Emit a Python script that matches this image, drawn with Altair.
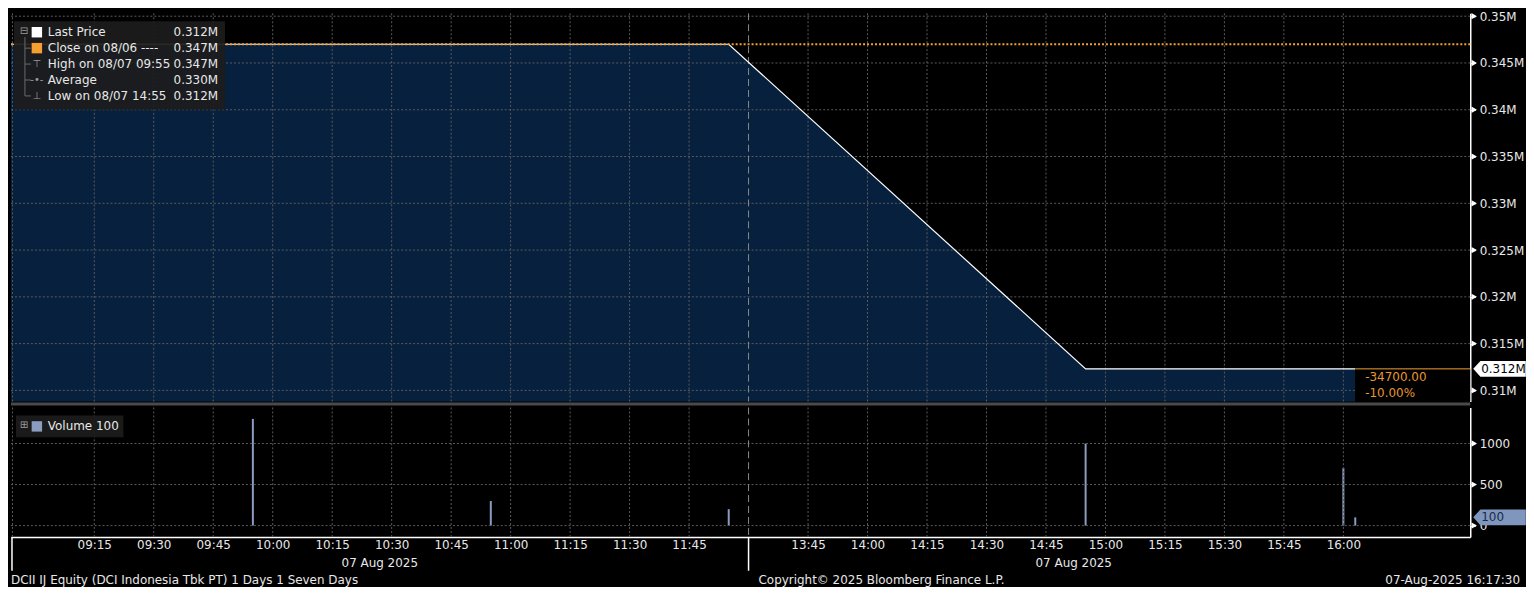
import altair as alt
import pandas as pd

# ---------------- data ----------------
price_times = ["08:54", "09:55", "10:55", "11:55", "14:55", "16:00", "16:03"]
price_values = [347000, 347000, 347000, 347000, 312300, 312300, 312300]
vol_times = ["09:55", "10:55", "11:55", "14:55", "16:00", "16:03"]
vol_values = [1300, 300, 200, 1000, 700, 100]
prev_close = 347000
legend_labels = ["Last Price", "Close on 08/06 ----", "High on 08/07 09:55",
                 "Average", "Low on 08/07 14:55"]
x_tick_labels = ["09:15", "09:30", "09:45", "10:00", "10:15", "10:30", "10:45",
                 "11:00", "11:15", "11:30", "11:45", "13:45", "14:00", "14:15",
                 "14:30", "14:45", "15:00", "15:15", "15:30", "15:45", "16:00"]
lunch_start = "12:00"
lunch_end = "13:30"
x_start, x_end = "08:54", "16:32"
date_label = "07 Aug 2025"
date_label_times = ["10:27", "14:52"]
price_axis_ticks = [310000, 312500, 315000, 317500, 320000, 322500, 325000, 327500,
                    330000, 332500, 335000, 337500, 340000, 342500, 345000, 347500, 350000]
price_grid = [310000, 315000, 320000, 325000, 330000, 335000, 340000, 345000, 350000]
price_domain = [308810, 350310]
vol_axis_ticks = [0, 250, 500, 750, 1000, 1250]
vol_grid = [0, 500, 1000]
vol_domain = [-138, 1439]
footer_left = "DCII IJ Equity (DCI Indonesia Tbk PT) 1 Days 1 Seven Days"
footer_center = "Copyright\u00a9 2025 Bloomberg Finance L.P."
footer_right = "07-Aug-2025 16:17:30"

# ---------------- layout / style ----------------
W, H1, H2 = 1466, 390, 130
FONT = "DejaVu Sans"
AREA = "#06203d"
ORANGE = "#f5a030"
ORANGE_TXT = "#e8962f"
GRID = "#5c5c5c"
VOLC = "#8a9cc0"
TXT = "#e8e8e8"


def to_min(t):
    h, m = map(int, t.split(":"))
    return h * 60 + m


L0, L1 = to_min(lunch_start), to_min(lunch_end)
GAP = L1 - L0
BASE = to_min("09:00")


def pos(t):
    v = to_min(t)
    if v >= L1:
        v -= GAP
    return v - BASE


xs = alt.Scale(domain=[pos(x_start), pos(x_end)], nice=False, zero=False)
ys = alt.Scale(domain=price_domain, nice=False, zero=False)
vs = alt.Scale(domain=vol_domain, nice=False, zero=False)

price_df = pd.DataFrame({"time": price_times, "price": price_values})
price_df["x"] = price_df["time"].map(pos)
vol_df = pd.DataFrame({"time": vol_times, "vol": vol_values})
vol_df["x"] = vol_df["time"].map(pos)
tick_df = pd.DataFrame({"x": [pos(t) for t in x_tick_labels]})
brk_df = pd.DataFrame({"x": [pos(lunch_start)]})
one = pd.DataFrame({"k": [0]})

last_price = price_values[-1]
chg = last_price - prev_close
pct = chg / prev_close * 100
price_at = dict(zip(price_times, price_values))
avg = sum(price_at[t] * v for t, v in zip(vol_times, vol_values)) / sum(vol_values)
legend_vals = [last_price, prev_close, max(price_values), avg, min(price_values)]


def fmt_m(v):
    return f"{v / 1e6:.3f}M"


# top panel: no x axis at all -> axis=None everywhere
def xt(f):
    return alt.X(f, type="quantitative", scale=xs, axis=None)


# shared axes: other layers leave the axis undefined (title only)
def yt(f):
    return alt.Y(f, type="quantitative", scale=ys, title=None)


def xb(f):
    return alt.X(f, type="quantitative", scale=xs, title=None)


def yb(f):
    return alt.Y(f, type="quantitative", scale=vs, title=None)


# ---------------- top (price) panel ----------------
y_axis_top = alt.Axis(
    orient="right", values=price_axis_ticks, title=None, grid=False,
    labelExpr="datum.value % 5000 == 0 ? format(datum.value / 1000000, '.3~f') + 'M' : ''",
    labelColor=TXT, labelFont=FONT, labelFontSize=12, labelPadding=4,
    labelOverlap=False, labelFlush=False,
    tickColor="white", tickSize=5, domainColor="white", domainWidth=1.5,
)

area = alt.Chart(price_df).mark_area(color=AREA, clip=True).encode(
    x=xt("x"), y=alt.Y("price:Q", scale=ys, axis=y_axis_top), y2=alt.value(H1)
)
vgrid = alt.Chart(tick_df).mark_rule(color=GRID, strokeDash=[2, 2], strokeWidth=1).encode(x=xt("x"))
left_edge = alt.Chart(one).mark_rule(color=GRID, strokeDash=[2, 2], strokeWidth=1).encode(x=alt.value(1.5))
grid_df = pd.DataFrame({"v": price_grid})
hgrid = alt.Chart(grid_df).mark_rule(
    color=GRID, strokeDash=[2, 2], strokeWidth=1).encode(y=yt("v"))
major_tri = alt.Chart(grid_df).mark_point(
    shape="triangle-right", size=40, filled=True, color="white", opacity=1, strokeWidth=0).encode(
    x=alt.value(W + 4), y=yt("v"))
brk_top = alt.Chart(brk_df).mark_rule(color="#8a8a8a", strokeDash=[7, 4], strokeWidth=1).encode(x=xt("x"))
line = alt.Chart(price_df).mark_line(color="white", strokeWidth=1.2).encode(
    x=xt("x"), y=yt("price"))
close_rule = alt.Chart(pd.DataFrame({"c": [prev_close]})).mark_rule(
    color=ORANGE, strokeWidth=2, strokeDash=[2, 2]).encode(y=yt("c"))

last_df = price_df.tail(1).copy()
last_df["txt"] = f"{chg:.2f}\n{pct:.2f}%"
last_df["lbl"] = fmt_m(last_price)
blank_box = alt.Chart(last_df).mark_rect(color="black").encode(
    x=xt("x"), x2=alt.value(W), y=yt("price"), y2=alt.value(H1))
last_rule = alt.Chart(last_df).mark_rule(color=ORANGE, strokeWidth=1).encode(
    x=xt("x"), x2=alt.value(W), y=yt("price"))
chg_text = alt.Chart(last_df).mark_text(
    align="left", baseline="top", lineBreak="\n", dx=10, dy=3, lineHeight=16,
    color=ORANGE_TXT, font=FONT, fontSize=12).encode(x=xt("x"), y=yt("price"), text="txt:N")
callout_path = "M0,0 L0.9,-1 L6.6,-1 L6.6,1 L0.9,1 Z"
last_box = alt.Chart(last_df).mark_point(
    shape=callout_path, size=256, filled=True, color="white", opacity=1, strokeWidth=0).encode(
    x=alt.value(W + 3), y=yt("price"))
last_lbl = alt.Chart(last_df).mark_text(
    align="left", baseline="middle", color="black", font=FONT, fontSize=12).encode(
    x=alt.value(W + 11), y=yt("price"), text="lbl:N")

separator = alt.Chart(one).mark_rect(color="#4a4a4a").encode(
    x=alt.value(0), x2=alt.value(W), y=alt.value(H1 + 1), y2=alt.value(H1 + 4))

# legend box (top-left)
leg_df = pd.DataFrame({"label": legend_labels, "val": [fmt_m(v) for v in legend_vals]})
leg_df["i"] = range(len(leg_df))
leg_df["py"] = 19 + 16 * leg_df["i"]
leg_df["glyph"] = ["", "", "\u22a4", "-\u2022-", "\u22a5"]
leg_df["sq"] = ["white", ORANGE, "none", "none", "none"]
leg_bg = alt.Chart(one).mark_rect(color="#1c1c1c", opacity=0.92).encode(
    x=alt.value(3), x2=alt.value(215), y=alt.value(8), y2=alt.value(97))
PX = dict(scale=None, axis=None)
leg_lab = alt.Chart(leg_df).mark_text(align="left", baseline="middle", color=TXT, font=FONT, fontSize=12).encode(
    x=alt.value(37), y=alt.Y("py:Q", **PX), text="label:N")
leg_val = alt.Chart(leg_df).mark_text(align="right", baseline="middle", color=TXT, font=FONT, fontSize=12).encode(
    x=alt.value(208), y=alt.Y("py:Q", **PX), text="val:N")
leg_sq = alt.Chart(leg_df.head(2)).mark_square(size=110, filled=True, opacity=1).encode(
    x=alt.value(26), y=alt.Y("py:Q", **PX), color=alt.Color("sq:N", scale=None))
leg_gl = alt.Chart(leg_df.tail(3)).mark_text(align="center", baseline="middle", color="#9a9a9a", font=FONT, fontSize=10).encode(
    x=alt.value(26), y=alt.Y("py:Q", **PX), text="glyph:N")
leg_tree_icon = alt.Chart(one).mark_text(text="\u229f", color="#9a9a9a", font=FONT, fontSize=10).encode(
    x=alt.value(13), y=alt.value(18))
leg_tree = alt.Chart(one).mark_rule(color="#6a6a6a", strokeWidth=1).encode(
    x=alt.value(14), y=alt.value(24), y2=alt.value(83))
leg_branch = alt.Chart(leg_df.tail(4)).mark_rule(color="#6a6a6a", strokeWidth=1).encode(
    x=alt.value(14), x2=alt.value(20), y=alt.Y("py:Q", **PX))

top = alt.layer(
    area, vgrid, left_edge, hgrid, brk_top, line, blank_box, close_rule, last_rule,
    chg_text, major_tri, last_box, last_lbl, separator,
    leg_bg, leg_tree, leg_branch, leg_tree_icon, leg_sq, leg_gl, leg_lab, leg_val,
).properties(width=W, height=H1)

# ---------------- bottom (volume) panel ----------------
x_axis_bottom = alt.Axis(
    values=tick_df["x"].tolist(), title=None, grid=False, ticks=False,
    labelExpr=f"timeFormat(datetime(2025, 7, 7, 9, datum.value < {L0 - BASE} ? datum.value : datum.value + {GAP}), '%H:%M')",
    labelColor=TXT, labelFont=FONT, labelFontSize=12, labelPadding=3,
    labelOverlap=False, labelFlush=False, domainColor="white", domainWidth=1.5,
)
y_axis_bottom = alt.Axis(
    orient="right", values=vol_axis_ticks, title=None, grid=False,
    labelExpr="datum.value % 500 == 0 ? '' + datum.value : ''",
    labelColor=TXT, labelFont=FONT, labelFontSize=12, labelPadding=4,
    labelOverlap=False, labelFlush=False,
    tickColor="white", tickSize=5, domainColor="white", domainWidth=1.5,
)

bars = alt.Chart(vol_df).mark_rule(color=VOLC, strokeWidth=2).encode(
    x=alt.X("x:Q", scale=xs, axis=x_axis_bottom),
    y=alt.Y("vol:Q", scale=vs, axis=y_axis_bottom), y2=alt.datum(0))
vgrid_b = alt.Chart(tick_df).mark_rule(color=GRID, strokeDash=[2, 2], strokeWidth=1).encode(x=xb("x"))
vgrid_df = pd.DataFrame({"v": vol_grid})
hgrid_b = alt.Chart(vgrid_df).mark_rule(
    color=GRID, strokeDash=[2, 2], strokeWidth=1).encode(y=yb("v"))
major_tri_b = alt.Chart(vgrid_df).mark_point(
    shape="triangle-right", size=40, filled=True, color="white", opacity=1, strokeWidth=0).encode(
    x=alt.value(W + 4), y=yb("v"))
left_edge_b = alt.Chart(one).mark_rule(color=GRID, strokeDash=[2, 2], strokeWidth=1).encode(x=alt.value(1.5))
brk_b = alt.Chart(brk_df).mark_rule(color="#8a8a8a", strokeDash=[7, 4], strokeWidth=1).encode(x=xb("x"))
brk_ext = alt.Chart(brk_df).mark_rule(color="white", strokeWidth=1.5).encode(
    x=xb("x"), y=alt.value(H2), y2=alt.value(H2 + 34))
left_ext = alt.Chart(one).mark_rule(color="white", strokeWidth=1.5).encode(
    x=alt.value(1), y=alt.value(H2), y2=alt.value(H2 + 34))

date_df = pd.DataFrame({"x": [pos(t) for t in date_label_times], "t": [date_label] * len(date_label_times)})
date_txt = alt.Chart(date_df).mark_text(baseline="middle", color=TXT, font=FONT, fontSize=12).encode(
    x=xb("x"), y=alt.value(H2 + 26), text="t:N")

foot_df = pd.DataFrame({"t": [footer_left, footer_center, footer_right]})
foot_l = alt.Chart(foot_df.iloc[[0]]).mark_text(align="left", baseline="middle", color=TXT, font=FONT, fontSize=12).encode(
    x=alt.value(0), y=alt.value(H2 + 43), text="t:N")
foot_c = alt.Chart(foot_df.iloc[[1]]).mark_text(align="left", baseline="middle", color=TXT, font=FONT, fontSize=12).encode(
    x=alt.value(751), y=alt.value(H2 + 43), text="t:N")
foot_r = alt.Chart(foot_df.iloc[[2]]).mark_text(align="right", baseline="middle", color=TXT, font=FONT, fontSize=12).encode(
    x=alt.value(W + 50), y=alt.value(H2 + 43), text="t:N")

lastv_df = vol_df.tail(1).copy()
lastv_df["lbl"] = lastv_df["vol"].astype(str)
vol_box = alt.Chart(lastv_df).mark_point(
    shape=callout_path, size=256, filled=True, color="#8097bd", opacity=1, strokeWidth=0).encode(
    x=alt.value(W + 3), y=yb("vol"))
vol_lbl = alt.Chart(lastv_df).mark_text(
    align="left", baseline="middle", color="#1a2a48", font=FONT, fontSize=12).encode(
    x=alt.value(W + 11), y=yb("vol"), text="lbl:N")

vleg_df = pd.DataFrame({"t": [f"Volume {vol_values[-1]}"]})
vleg_bg = alt.Chart(one).mark_rect(color="#1c1c1c", opacity=0.92).encode(
    x=alt.value(5), x2=alt.value(113), y=alt.value(8), y2=alt.value(30))
vleg_icon = alt.Chart(one).mark_text(text="\u229e", color="#9a9a9a", font=FONT, fontSize=10).encode(
    x=alt.value(13), y=alt.value(18))
vleg_sq = alt.Chart(one).mark_square(size=110, filled=True, opacity=1, color=VOLC).encode(
    x=alt.value(26), y=alt.value(19))
vleg_txt = alt.Chart(vleg_df).mark_text(align="left", baseline="middle", color=TXT, font=FONT, fontSize=12).encode(
    x=alt.value(37), y=alt.value(19), text="t:N")

bottom = alt.layer(
    bars, vgrid_b, hgrid_b, major_tri_b, left_edge_b, brk_b, brk_ext, left_ext, date_txt,
    foot_l, foot_c, foot_r, vol_box, vol_lbl, vleg_bg, vleg_icon, vleg_sq, vleg_txt,
).properties(width=W, height=H2)

chart = alt.vconcat(top, bottom, spacing=1).resolve_scale(y="independent").properties(
    padding=0
).configure(background="#000000", font=FONT).configure_view(stroke=None)

chart.save("out.html", embed_options={"renderer": "svg", "actions": False})
